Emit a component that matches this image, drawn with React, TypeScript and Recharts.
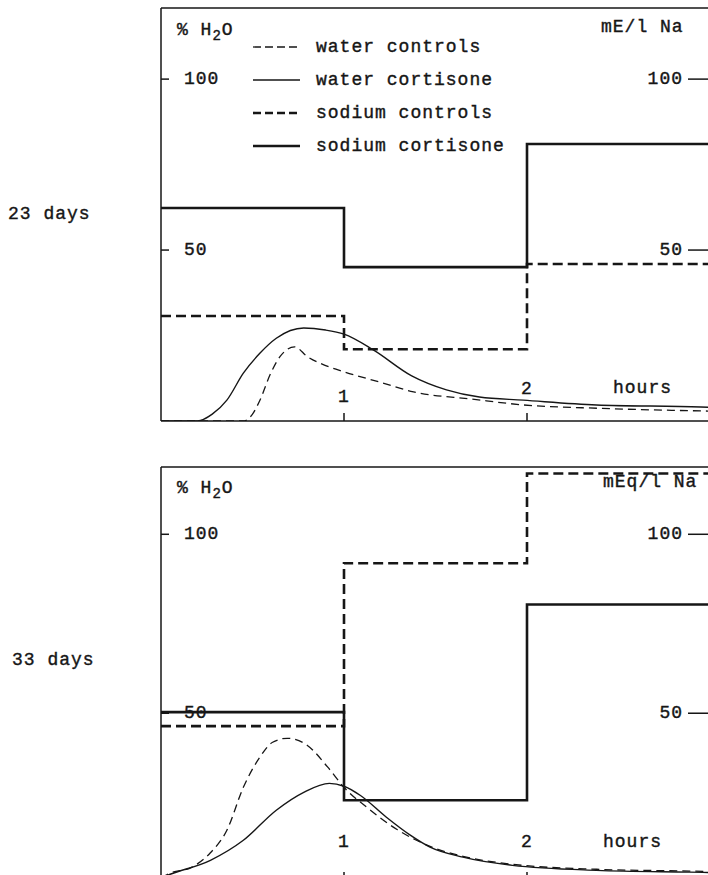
import React from 'react'
import { LineChart, Line, XAxis, YAxis, Legend } from 'recharts'

const FONT = '"Liberation Mono", "Courier New", monospace'
const INK = '#161616'

// sodium intake steps, one value per hour interval (last one repeated to close at 3 h)
const stepHours = [0, 1, 2, 3]
const naControls23 = [30.7, 21, 45.9, 45.9]
const naCortisone23 = [62.3, 45, 81, 81]
const naControls33 = [46.4, 91.9, 117, 117]
const naCortisone33 = [50.3, 25.7, 80.4, 80.4]

// % H2O excretion curves
const waterCtrlHours23 = [0, 0.45, 0.5, 0.54, 0.6, 0.65, 0.73, 0.8, 0.9, 1, 1.2, 1.38, 1.7, 1.98, 2.4, 3]
const waterCtrl23 = [0, 0, 2, 6, 14, 18.8, 21.7, 18.8, 16.2, 14.4, 11.3, 8.5, 6.4, 4.7, 3.7, 2.9]
const waterCortHours23 = [0, 0.2, 0.28, 0.36, 0.45, 0.54, 0.63, 0.78, 0.9, 1, 1.16, 1.37, 1.56, 1.74, 1.98, 2.38, 2.95, 3]
const waterCort23 = [0, 0, 2, 6.1, 14, 19.8, 24.2, 27.2, 26.6, 25.4, 20.8, 13.2, 9.1, 7, 6.1, 4.7, 4.1, 4]

const waterCtrlHours33 = [0, 0.05, 0.17, 0.27, 0.36, 0.45, 0.54, 0.61, 0.69, 0.8, 0.91, 1, 1.13, 1.29, 1.47, 1.65, 1.92, 2.38, 2.89, 3]
const waterCtrl33 = [4, 5.3, 7, 11, 17.3, 29.3, 37.7, 41.9, 43, 41, 35, 29.3, 23.5, 17.5, 12.8, 10, 7.8, 6.4, 5.9, 5.8]
const waterCortHours33 = [0, 0.05, 0.27, 0.45, 0.63, 0.78, 0.92, 1, 1.09, 1.23, 1.36, 1.47, 1.65, 1.92, 2.38, 2.89, 3]
const waterCort33 = [4, 5, 8.9, 14.5, 22.9, 27.9, 30.4, 29.6, 27, 21, 16, 12.6, 9.8, 7.5, 6.1, 5.6, 5.5]

const hourTicks = [1, 2]
const valueTicks = [50, 100]
const seriesNames = ['water controls', 'water cortisone', 'sodium controls', 'sodium cortisone']

const STYLE: Record<string, { w: number; dash?: string; legendDash?: string }> = {
  'water controls': { w: 1.3, dash: '8 5', legendDash: '8 4' },
  'water cortisone': { w: 1.4 },
  'sodium controls': { w: 2.6, dash: '10 5', legendDash: '8 4' },
  'sodium cortisone': { w: 2.6 },
}

const pts = (t: number[], v: number[]) => t.map((h, i) => ({ t: h, v: v[i] }))

const textStyle = { fontFamily: FONT, fontSize: 18, letterSpacing: 1 }
const TICK = 8

const NumTick = ({ x, y, payload, anchor }: any) => (
  <text x={x} y={y} textAnchor={anchor} dominantBaseline="central" fill={INK} stroke={INK} strokeWidth={0.4} style={textStyle}>
    {payload.value}
  </text>
)

const HourTick = ({ x, y, payload, lift }: any) => (
  <text x={x} y={y + TICK - lift[payload.value]} textAnchor="middle" dominantBaseline="central" fill={INK} stroke={INK} strokeWidth={0.4} style={textStyle}>
    {payload.value}
  </text>
)

const LegendRows = ({ payload }: any) => {
  const items = [...(payload || [])].sort((a: any, b: any) => seriesNames.indexOf(a.value) - seriesNames.indexOf(b.value))
  return (
    <div style={{ ...textStyle, color: INK, WebkitTextStroke: '0.4px #161616' }}>
      {items.map((p: any) => {
        const s = STYLE[p.value]
        return (
          <div key={p.value} style={{ display: 'flex', alignItems: 'center', height: 33 }}>
            <svg width={63} height={10}>
              <line x1={0} x2={47} y1={5} y2={5} stroke={INK} strokeWidth={s.w} strokeDasharray={s.legendDash} />
            </svg>
            <span style={{ whiteSpace: 'nowrap' }}>{p.value}</span>
          </div>
        )
      })}
    </div>
  )
}

const Note = ({ left, cy, children }: any) => (
  <div style={{ position: 'absolute', left, top: cy - 10, lineHeight: '20px', whiteSpace: 'nowrap', color: INK, WebkitTextStroke: '0.4px #161616', ...textStyle }}>
    {children}
  </div>
)

function Panel({ top, yDomain, naCtrl, naCort, wCtrl, wCort, lift, legend }: any) {
  return (
    <div style={{ position: 'absolute', left: 0, top }}>
      <LineChart width={720} height={430} margin={{ top: 8, right: 10, bottom: 9, left: 161 }}>
        <XAxis dataKey="t" type="number" domain={[0, 3]} ticks={hourTicks} allowDataOverflow mirror
          tickSize={TICK} tickMargin={0} stroke={INK} strokeWidth={1.5} tick={<HourTick lift={lift} />} />
        <XAxis xAxisId="top" dataKey="t" type="number" domain={[0, 3]} ticks={hourTicks} orientation="top" mirror
          tickSize={TICK} stroke={INK} strokeWidth={1.5} tick={false} />
        <YAxis yAxisId="left" type="number" domain={yDomain} ticks={valueTicks} allowDataOverflow mirror
          tickSize={TICK} tickMargin={15} stroke={INK} strokeWidth={1.5} tick={<NumTick anchor="start" />} />
        <YAxis yAxisId="right" orientation="right" type="number" domain={yDomain} ticks={valueTicks} allowDataOverflow mirror
          tickSize={22} tickMargin={5} stroke={INK} strokeWidth={1.5} tick={<NumTick anchor="end" />} />
        <Line yAxisId="left" name="water controls" data={wCtrl} dataKey="v" type="monotone" stroke={INK}
          strokeWidth={STYLE['water controls'].w} strokeDasharray={STYLE['water controls'].dash} dot={false} activeDot={false} isAnimationActive={false} />
        <Line yAxisId="left" name="water cortisone" data={wCort} dataKey="v" type="monotone" stroke={INK}
          strokeWidth={STYLE['water cortisone'].w} dot={false} activeDot={false} isAnimationActive={false} />
        <Line yAxisId="left" name="sodium controls" data={naCtrl} dataKey="v" type="stepAfter" stroke={INK}
          strokeWidth={STYLE['sodium controls'].w} strokeDasharray={STYLE['sodium controls'].dash} dot={false} activeDot={false} isAnimationActive={false} />
        <Line yAxisId="left" name="sodium cortisone" data={naCort} dataKey="v" type="stepAfter" stroke={INK}
          strokeWidth={STYLE['sodium cortisone'].w} dot={false} activeDot={false} isAnimationActive={false} />
        {legend && (
          <Legend layout="vertical" align="center" verticalAlign="middle" content={<LegendRows />}
            wrapperStyle={{ left: 253, top: 30, width: 330 }} />
        )}
      </LineChart>
    </div>
  )
}

const h2o = (
  <>% H<sub style={{ fontSize: 14, verticalAlign: '-5px', lineHeight: 0 }}>2</sub>O</>
)

export default function App() {
  return (
    <div style={{ position: 'absolute', left: 0, top: 0, width: 708, height: 875, overflow: 'hidden', background: '#fff' }}>
      <Panel top={0} yDomain={[0, 120.8]} legend
        naCtrl={pts(stepHours, naControls23)} naCort={pts(stepHours, naCortisone23)}
        wCtrl={pts(waterCtrlHours23, waterCtrl23)} wCort={pts(waterCortHours23, waterCort23)}
        lift={{ 1: 24, 2: 32 }} />
      <Panel top={459} yDomain={[3.4, 118.8]}
        naCtrl={pts(stepHours, naControls33)} naCort={pts(stepHours, naCortisone33)}
        wCtrl={pts(waterCtrlHours33, waterCtrl33)} wCort={pts(waterCortHours33, waterCort33)}
        lift={{ 1: 38, 2: 38 }} />

      <Note left={8} cy={214}>23 days</Note>
      <Note left={12} cy={660}>33 days</Note>
      <Note left={177} cy={30}>{h2o}</Note>
      <Note left={177} cy={488}>{h2o}</Note>
      <Note left={601} cy={27}>mE/l Na</Note>
      <Note left={603} cy={482}>mEq/l Na</Note>
      <Note left={613} cy={388}>hours</Note>
      <Note left={603} cy={842}>hours</Note>
    </div>
  )
}
